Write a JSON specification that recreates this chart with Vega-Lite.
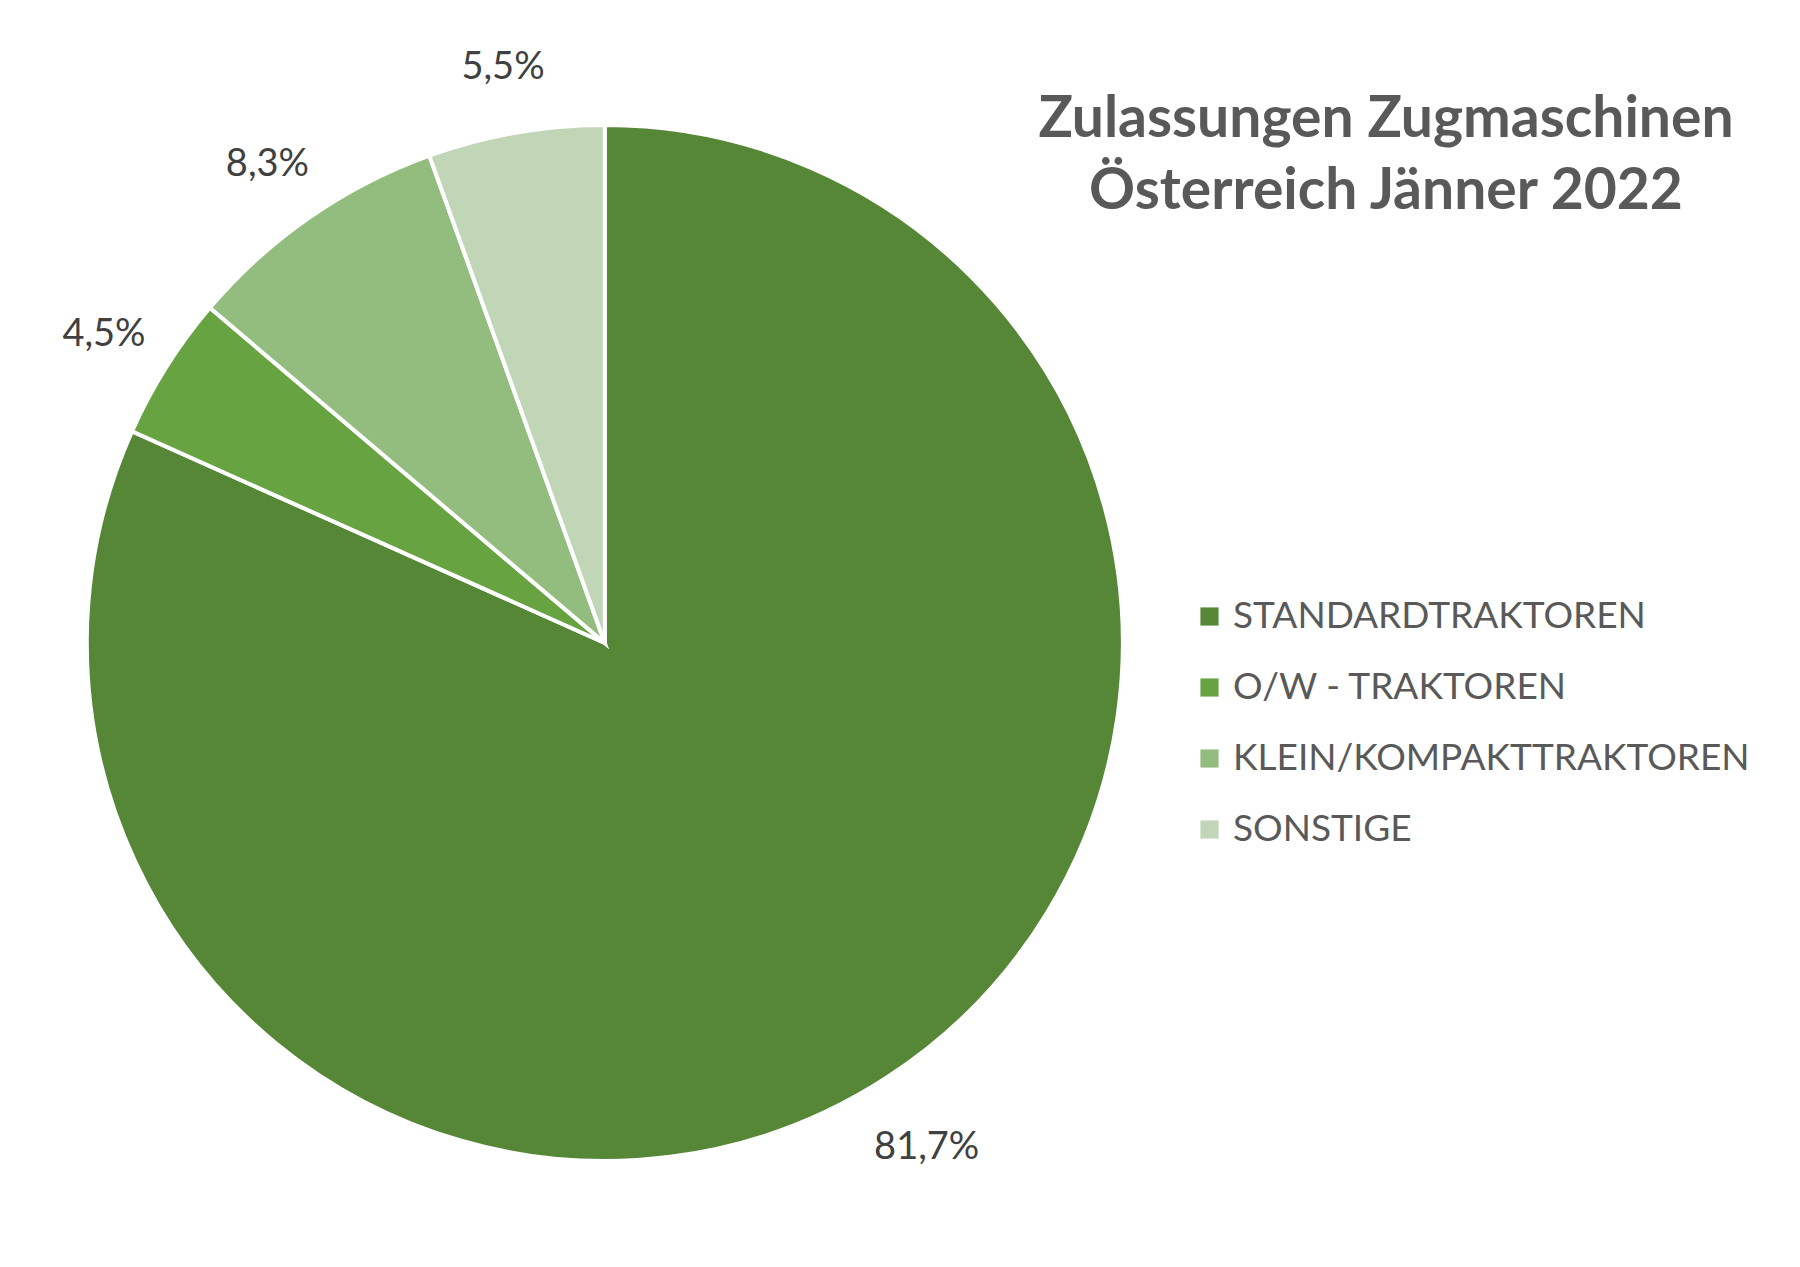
{
  "$schema": "https://vega.github.io/schema/vega-lite/v6.json",
  "width": 1800,
  "height": 1267,
  "padding": 0,
  "autosize": {"type": "none"},
  "background": "white",
  "config": {
    "font": "Lato",
    "view": {"stroke": "#d9d9d9", "strokeWidth": 2},
    "locale": {
      "number": {"decimal": ",", "thousands": ".", "grouping": [3], "currency": ["", " €"]}
    }
  },
  "title": {
    "text": ["Zulassungen Zugmaschinen", "Österreich Jänner 2022"],
    "orient": "top",
    "anchor": "middle",
    "frame": "group",
    "baseline": "top",
    "offset": 0,
    "dx": 486,
    "dy": 221,
    "fontSize": 57,
    "fontWeight": "bold",
    "color": "#595959",
    "lineHeight": 72
  },
  "data": {
    "values": [
      {"idx": 1, "kategorie": "STANDARDTRAKTOREN", "anteil": 0.817},
      {"idx": 2, "kategorie": "O/W - TRAKTOREN", "anteil": 0.045},
      {"idx": 3, "kategorie": "KLEIN/KOMPAKTTRAKTOREN", "anteil": 0.083},
      {"idx": 4, "kategorie": "SONSTIGE", "anteil": 0.055}
    ]
  },
  "encoding": {
    "theta": {"field": "anteil", "type": "quantitative", "stack": true},
    "order": {"field": "idx", "type": "quantitative"},
    "color": {
      "field": "kategorie",
      "type": "nominal",
      "sort": ["STANDARDTRAKTOREN", "O/W - TRAKTOREN", "KLEIN/KOMPAKTTRAKTOREN", "SONSTIGE"],
      "scale": {
        "domain": ["STANDARDTRAKTOREN", "O/W - TRAKTOREN", "KLEIN/KOMPAKTTRAKTOREN", "SONSTIGE"],
        "range": ["#558737", "#68a342", "#93bd7e", "#c0d6b6"]
      },
      "legend": {
        "title": null,
        "orient": "none",
        "legendX": 1191,
        "legendY": 598,
        "symbolType": "square",
        "symbolSize": 330,
        "symbolStrokeWidth": 0,
        "labelFontSize": 37,
        "labelColor": "#595959",
        "labelOffset": 5,
        "labelLimit": 600,
        "rowPadding": 33
      }
    }
  },
  "layer": [
    {
      "mark": {
        "type": "arc",
        "outerRadius": 518,
        "x": {"expr": "width * 0.336"},
        "y": {"expr": "height * 0.5075"},
        "stroke": "white",
        "strokeWidth": 4
      }
    },
    {
      "mark": {
        "type": "text",
        "radius": 592,
        "x": {"expr": "width * 0.336"},
        "y": {"expr": "height * 0.5075"},
        "dy": 8,
        "fontSize": 38
      },
      "encoding": {
        "text": {"field": "anteil", "type": "quantitative", "format": ".1%"},
        "color": {"value": "#404040"}
      }
    }
  ]
}
